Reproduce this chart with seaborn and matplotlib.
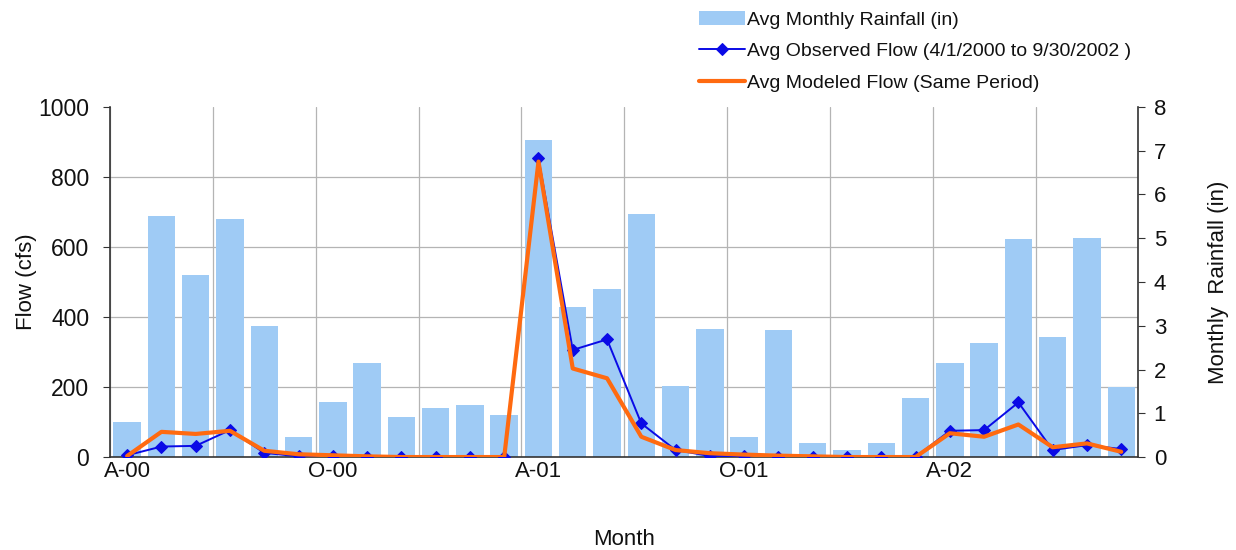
import numpy as np
import pandas as pd
import matplotlib
matplotlib.use("Agg")
import matplotlib.pyplot as plt
from matplotlib.ticker import FixedLocator, MultipleLocator, NullFormatter
import seaborn as sns

sns.set_style("white")
plt.rcParams["font.family"] = ["Liberation Sans", "DejaVu Sans"]
plt.rcParams["text.color"] = "#111111"
plt.rcParams["xtick.color"] = "#111111"
plt.rcParams["ytick.color"] = "#111111"
plt.rcParams["axes.labelcolor"] = "#111111"

# meses de abr/2000 a set/2002 (30 meses)
meses = pd.date_range("2000-04-01", periods=30, freq="MS")
mes_meio = np.arange(len(meses)) + 0.5  # centro de cada mes no eixo

chuva = [0.79, 5.51, 4.16, 5.43, 2.99, 0.45, 1.26, 2.16, 0.92, 1.13,
         1.19, 0.96, 7.25, 3.42, 3.84, 5.55, 1.63, 2.92, 0.46, 2.90,
         0.31, 0.16, 0.31, 1.34, 2.16, 2.60, 4.98, 2.74, 5.01, 1.59]

vazao_obs = [5, 30, 32, 77, 12, 2, 2, 1, 1, 1,
             1, 1, 853, 306, 336, 96, 20, 3, 2, 1,
             1, 0, 0, 0, 75, 77, 156, 20, 34, 23]

vazao_mod = [3, 72, 66, 75, 18, 8, 5, 2, 0, 0,
             0, 0, 844, 253, 225, 58, 20, 11, 7, 4,
             2, 0, 0, 0, 68, 58, 93, 28, 39, 15]

rotulos_x = ["A-00", "O-00", "A-01", "O-01", "A-02"]
pos_rotulos = [0.5, 6.5, 12.5, 18.5, 24.5]

cor_barra = "#9fcbf5"
cor_obs = "#0a0ae6"
cor_mod = "#ff6a10"

fig = plt.figure(figsize=(12.36, 5.5), dpi=100)
ax_chuva = fig.add_axes([0.089, 0.169, 0.832, 0.6365])
ax_vazao = ax_chuva.twinx()

# barras de chuva (eixo da direita)
sns.barplot(x=mes_meio, y=chuva, native_scale=True, color=cor_barra,
            saturation=1, width=0.8, ax=ax_chuva, edgecolor="none")

# linhas de vazao (eixo da esquerda)
sns.lineplot(x=mes_meio, y=vazao_obs, ax=ax_vazao, color=cor_obs,
             marker="D", markersize=6, markeredgecolor=cor_obs,
             linewidth=1.4)
sns.lineplot(x=mes_meio, y=vazao_mod, ax=ax_vazao, color=cor_mod,
             linewidth=3)

ax_chuva.set_xlim(0, 30)
ax_chuva.set_ylim(0, 8)
ax_vazao.set_ylim(0, 1000)

# eixo de chuva na direita, vazao na esquerda
ax_chuva.yaxis.tick_right()
ax_chuva.yaxis.set_label_position("right")
ax_vazao.yaxis.tick_left()
ax_vazao.yaxis.set_label_position("left")

ax_chuva.yaxis.set_major_locator(MultipleLocator(1))
ax_vazao.yaxis.set_major_locator(MultipleLocator(200))

# grade horizontal atras das barras
ax_chuva.yaxis.set_minor_locator(FixedLocator(np.linspace(0, 8, 6)))
ax_chuva.grid(which="minor", axis="y", color="#b4b4b4", linewidth=0.9)
ax_chuva.tick_params(axis="y", which="minor", length=0)

# grade vertical a cada 3 meses, rotulos a cada 6 meses
ax_chuva.xaxis.set_major_locator(MultipleLocator(3))
ax_chuva.xaxis.set_major_formatter(NullFormatter())
ax_chuva.xaxis.set_minor_locator(FixedLocator(pos_rotulos))
ax_chuva.set_xticklabels(rotulos_x, minor=True)
ax_chuva.grid(which="major", axis="x", color="#b4b4b4", linewidth=0.9)
ax_chuva.set_axisbelow(True)

ax_chuva.tick_params(axis="x", which="major", direction="out", length=5,
                     color="#333333", width=1)
ax_chuva.tick_params(axis="x", which="minor", length=0, labelsize=16, pad=3)
ax_chuva.tick_params(axis="y", which="major", direction="out", length=5,
                     color="#333333", labelsize=16, pad=6, right=True, left=False)
ax_vazao.tick_params(axis="y", direction="out", length=5, color="#333333",
                     labelsize=16.5, pad=10)

for lado in ["top", "left"]:
    ax_chuva.spines[lado].set_visible(False)
for lado in ["top", "right", "bottom"]:
    ax_vazao.spines[lado].set_visible(False)
for sp in [ax_chuva.spines["right"], ax_chuva.spines["bottom"], ax_vazao.spines["left"]]:
    sp.set_color("#333333")
    sp.set_linewidth(1.2)

ax_chuva.set_xlabel("Month", fontsize=16, labelpad=34)
ax_chuva.set_ylabel("Monthly  Rainfall (in)", fontsize=16, labelpad=30)
ax_vazao.set_ylabel("Flow (cfs)", fontsize=16, labelpad=1)

# legenda acima do grafico
alcas = [ax_chuva.patches[0], ax_vazao.lines[0], ax_vazao.lines[1]]
nomes = ["Avg Monthly Rainfall (in)",
         "Avg Observed Flow (4/1/2000 to 9/30/2002 )",
         "Avg Modeled Flow (Same Period)"]
fig.legend(alcas, nomes, loc="upper left", bbox_to_anchor=(0.551, 1.012),
           frameon=False, fontsize=14, handlelength=2.4, handletextpad=0.1,
           labelspacing=0.72)

fig.savefig("out.png", dpi=100)
